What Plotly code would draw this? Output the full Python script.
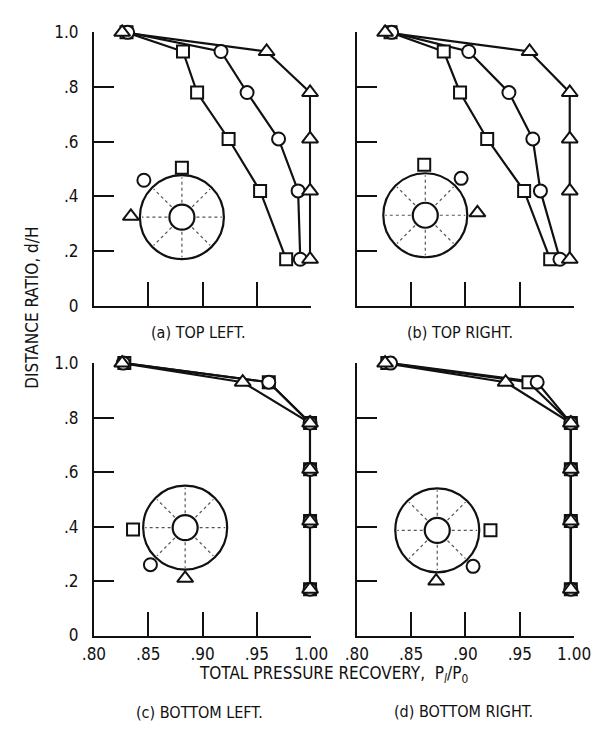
import math
import plotly.graph_objects as go

# ---------------- data ----------------
Y_LEVELS = [1.0, 0.93, 0.78, 0.61, 0.42, 0.17]

# (a) TOP LEFT
SQ_A = [0.830, 0.882, 0.895, 0.924, 0.953, 0.977]
CI_A = [0.831, 0.917, 0.941, 0.970, 0.988, 0.990]
TR_A = [0.826, 0.959, 0.999, 0.999, 0.999, 0.999]
# (b) TOP RIGHT
SQ_B = [0.831, 0.880, 0.895, 0.920, 0.954, 0.978]
CI_B = [0.832, 0.903, 0.940, 0.962, 0.969, 0.987]
TR_B = [0.826, 0.959, 0.996, 0.996, 0.996, 0.996]
# (c) BOTTOM LEFT
SQ_C = [0.828, 0.961, 0.999, 0.999, 0.999, 0.999]
CI_C = [0.827, 0.961, 0.999, 0.999, 0.999, 0.999]
TR_C = [0.826, 0.937, 0.999, 0.999, 0.999, 0.999]
# (d) BOTTOM RIGHT
SQ_D = [0.828, 0.958, 0.997, 0.997, 0.997, 0.997]
CI_D = [0.831, 0.966, 0.997, 0.997, 0.997, 0.997]
TR_D = [0.826, 0.937, 0.997, 0.997, 0.997, 0.997]

X_TICKS = [0.80, 0.85, 0.90, 0.95, 1.00]
X_TICK_TEXT = [".80", ".85", ".90", ".95", "1.00"]
Y_TICKS = [0.0, 0.2, 0.4, 0.6, 0.8, 1.0]
Y_TICK_TEXT = ["0", ".2", ".4", ".6", ".8", "1.0"]

CAPTIONS = ["(a) TOP LEFT.", "(b) TOP RIGHT.", "(c) BOTTOM LEFT.", "(d) BOTTOM RIGHT."]

# inset sketch (probe positions) in data coordinates
INSET_CENTER_X = [0.881, 0.863, 0.884, 0.874]
INSET_CENTER_Y = [0.324, 0.331, 0.396, 0.386]
INSET_SQ_X = [0.881, 0.862, 0.836, 0.923]
INSET_SQ_Y = [0.505, 0.516, 0.389, 0.386]
INSET_CI_X = [0.846, 0.896, 0.852, 0.907]
INSET_CI_Y = [0.459, 0.466, 0.260, 0.254]
INSET_TR_X = [0.834, 0.911, 0.884, 0.873]
INSET_TR_Y = [0.327, 0.340, 0.210, 0.200]

PANELS = [
    (SQ_A, CI_A, TR_A),
    (SQ_B, CI_B, TR_B),
    (SQ_C, CI_C, TR_C),
    (SQ_D, CI_D, TR_D),
]

# ---------------- style / layout ----------------
W, H = 613, 735
FONT = "DejaVu Sans Condensed, Liberation Sans Narrow, Arial Narrow, sans-serif"
INK = "#111111"
X_DOMAINS = [(86 / W, 314 / W), (362 / W, 590 / W)]
Y_DOMAINS = [((H - 304) / H, (H - 23) / H), ((H - 643) / H, (H - 363) / H)]
OUTER_R = 42
INNER_R = 12.5

fig = go.Figure()

symbols = ["square", "circle", "triangle-up"]
sizes = [12, 13, 14]

for i, series in enumerate(PANELS):
    xa = "x" if i == 0 else f"x{i+1}"
    ya = "y" if i == 0 else f"y{i+1}"
    # lines first
    for vals in series:
        fig.add_trace(go.Scatter(
            x=vals, y=Y_LEVELS, mode="lines", xaxis=xa, yaxis=ya,
            line=dict(color=INK, width=2.2), cliponaxis=False,
            showlegend=False, hoverinfo="skip"))
    for vals, sym, sz in zip(series, symbols, sizes):
        fig.add_trace(go.Scatter(
            x=vals, y=Y_LEVELS, mode="markers", xaxis=xa, yaxis=ya,
            marker=dict(symbol=sym, size=sz, color="white",
                        line=dict(color=INK, width=2)),
            cliponaxis=False, showlegend=False))
    # inset probe markers
    for px, py, sym, sz in [
        (INSET_SQ_X[i], INSET_SQ_Y[i], "square", 12),
        (INSET_CI_X[i], INSET_CI_Y[i], "circle", 13),
        (INSET_TR_X[i], INSET_TR_Y[i], "triangle-up", 14),
    ]:
        fig.add_trace(go.Scatter(
            x=[px], y=[py], mode="markers", xaxis=xa, yaxis=ya,
            marker=dict(symbol=sym, size=sz, color="white",
                        line=dict(color=INK, width=2)),
            cliponaxis=False, showlegend=False))

    # inset duct sketch
    cx, cy = INSET_CENTER_X[i], INSET_CENTER_Y[i]
    for r, w in [(OUTER_R, 2.2), (INNER_R, 2.2)]:
        fig.add_shape(type="circle", xref=xa, yref=ya,
                      xsizemode="pixel", ysizemode="pixel",
                      xanchor=cx, yanchor=cy,
                      x0=-r, x1=r, y0=-r, y1=r,
                      line=dict(color=INK, width=w), fillcolor="rgba(0,0,0,0)")
    for k in range(8):
        a = k * math.pi / 4
        fig.add_shape(type="line", xref=xa, yref=ya,
                      xsizemode="pixel", ysizemode="pixel",
                      xanchor=cx, yanchor=cy,
                      x0=(INNER_R + 2) * math.cos(a), x1=(OUTER_R - 2) * math.cos(a),
                      y0=(INNER_R + 2) * math.sin(a), y1=(OUTER_R - 2) * math.sin(a),
                      line=dict(color="#555555", width=1.2, dash="dot"))

axis_common = dict(showgrid=False, zeroline=False, showline=True,
                   linecolor=INK, linewidth=2, mirror=False,
                   ticks="inside", tickcolor=INK, tickwidth=2,
                   tickfont=dict(family=FONT, size=17, color=INK))

layout = dict(width=W, height=H, margin=dict(l=0, r=0, t=0, b=0),
              paper_bgcolor="white", plot_bgcolor="white",
              font=dict(family=FONT, color=INK), showlegend=False)

for i in range(4):
    row, col = divmod(i, 2)
    xk = "xaxis" if i == 0 else f"xaxis{i+1}"
    yk = "yaxis" if i == 0 else f"yaxis{i+1}"
    xa_anchor = "y" if i == 0 else f"y{i+1}"
    ya_anchor = "x" if i == 0 else f"x{i+1}"
    layout[xk] = dict(axis_common, domain=list(X_DOMAINS[col]), range=[0.80, 1.00],
                      anchor=xa_anchor, tickvals=X_TICKS, ticktext=X_TICK_TEXT,
                      ticklen=24, showticklabels=(row == 1),
                      ticklabelstandoff=2)
    layout[yk] = dict(axis_common, domain=list(Y_DOMAINS[row]), range=[0, 1.0],
                      anchor=ya_anchor, tickvals=Y_TICKS, ticktext=Y_TICK_TEXT,
                      ticklen=20, showticklabels=(col == 0),
                      ticklabelstandoff=10)

fig.update_layout(**layout)

ann = []
cap_pos = [(196, 332), (470, 332), (197, 722), (474, 721)]
for text, (px, py) in zip(CAPTIONS, cap_pos):
    ann.append(dict(text=text, x=px / W, y=1 - py / H, xref="paper", yref="paper",
                    showarrow=False, xanchor="center", yanchor="middle",
                    font=dict(family=FONT, size=16, color=INK)))
ann.append(dict(text="TOTAL PRESSURE RECOVERY,  P<sub><i>l</i></sub>/P<sub>0</sub>",
                x=337 / W, y=1 - 683 / H, xref="paper", yref="paper",
                showarrow=False, xanchor="center", yanchor="middle",
                font=dict(family=FONT, size=17, color=INK)))
ann.append(dict(text="DISTANCE RATIO, d/H", textangle=-90,
                x=21 / W, y=1 - 306 / H, xref="paper", yref="paper",
                showarrow=False, xanchor="center", yanchor="middle",
                font=dict(family=FONT, size=17, color=INK)))
fig.update_layout(annotations=ann)

fig.write_html("out.html")
